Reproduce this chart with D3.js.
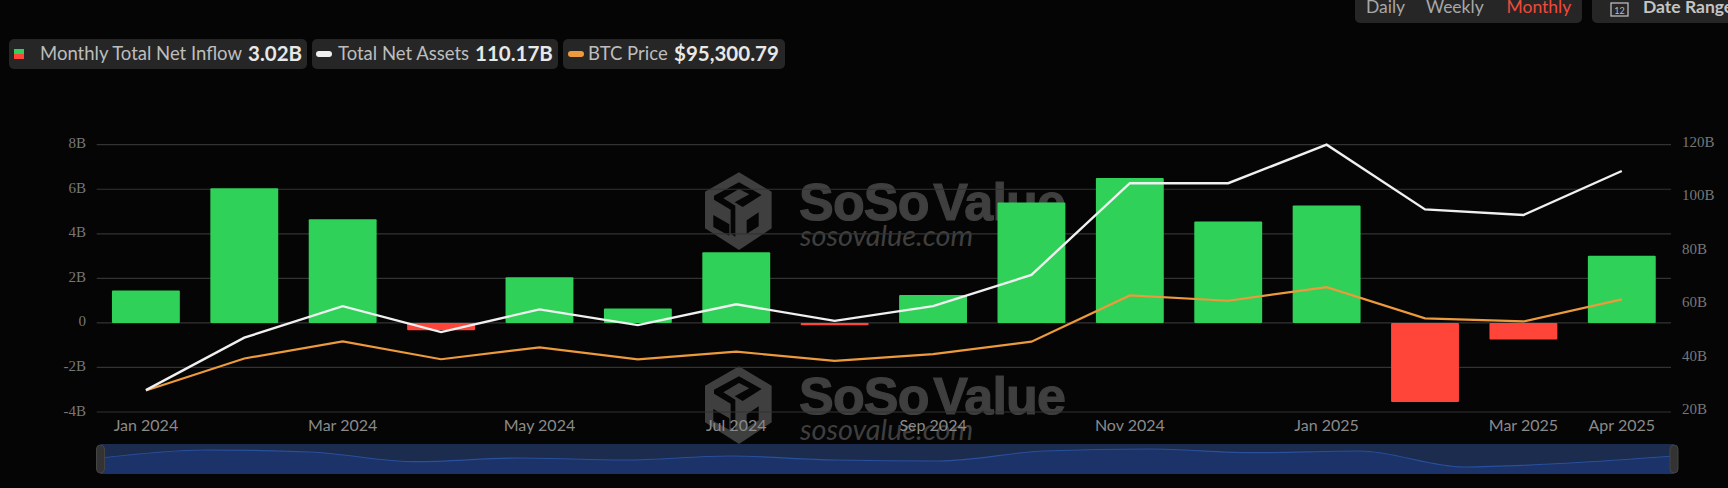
<!DOCTYPE html>
<html>
<head>
<meta charset="utf-8">
<script src="https://cdn.jsdelivr.net/npm/d3@7"></script>
<style>
  html, body { margin: 0; background: #050505; overflow: hidden; }
  text { font-family: Lato, sans-serif; }
</style>
</head>
<body>
<div id="chart"></div>
<script>
const months = ['2024-01','2024-02','2024-03','2024-04','2024-05','2024-06','2024-07','2024-08',
  '2024-09','2024-10','2024-11','2024-12','2025-01','2025-02','2025-03','2025-04']
const netInflow = [1.45, 6.05, 4.65, -0.33, 2.05, 0.65, 3.17, -0.1, 1.25, 5.4, 6.5, 4.55, 5.27, -3.55, -0.75, 3.02]
const netAssets = [28.2, 47.8, 59.6, 49.9, 58.4, 52.5, 60.3, 54.1, 59.6, 71.3, 105.6, 105.6, 120, 95.8, 93.7, 110.17]
const btcPrice = [42500, 61000, 71000, 60600, 67500, 60500, 65000, 59600, 63600, 70800, 97600, 94500, 102400, 84300, 82500, 95300]
const sliderTrend = [16, 24, 22, 12.3, 16, 14, 18, 14, 13, 23, 25, 21.3, 23, 7, 11, 18]

const xTickMonths = ['2024-01','2024-03','2024-05','2024-07','2024-09','2024-11','2025-01','2025-03','2025-04']
const xTickLabels = ['Jan 2024','Mar 2024','May 2024','Jul 2024','Sep 2024','Nov 2024','Jan 2025','Mar 2025','Apr 2025']
const leftTicks = [-4, -2, 0, 2, 4, 6, 8]
const rightTicks = [20, 40, 60, 80, 100, 120]

const W = 1728, H = 488
const plot = { left: 96.7, right: 1671, top: 144.7, bottom: 412 }
const GREEN = '#2fd158', RED = '#ff453a', WHITE = '#f0f0f0', ORANGE = '#ec9a3c'

const svg = d3.select('#chart').append('svg')
  .attr('width', W).attr('height', H)
  .style('display', 'block')

const x = d3.scaleBand().domain(months).range([plot.left, plot.right]).paddingInner(0.31).paddingOuter(0.155)
const y = d3.scaleLinear().domain([-4, 8]).range([plot.bottom, plot.top])
const yAssets = d3.scaleLinear().domain([20, 120]).range([plot.bottom, plot.top])
const yBtc = d3.scaleLinear().domain([30000, 185000]).range([plot.bottom, plot.top])
const cx = d => x(d) + x.bandwidth() / 2

// Watermarks, behind everything else
function watermark(dy) {
  const g = svg.append('g').attr('transform', `translate(0,${dy})`).attr('fill', '#3f3f3f')
  // logo, traced in a 300x285 box
  const logo = g.append('g').attr('transform', 'translate(690,165) scale(0.3333)')
  logo.append('path').attr('d', 'M147 22 L245 80 L245 190 L147 255 L45 190 L45 80 Z')
  logo.append('path').attr('fill', '#050505')
    .attr('d', 'M147 52 L215 90 L158 126 L134 112 L178 88 L147 72 L100 100 L136 122 L136 215 L122 206 L122 134 L72 104 L72 92 Z')
  logo.append('path').attr('fill', '#050505').attr('d', 'M70 150 L118 178 L118 212 L70 186 Z')
  logo.append('path').attr('fill', '#050505').attr('d', 'M170 166 L206 142 L206 184 L170 206 Z')
  g.append('text').attr('x', 799).attr('y', 220)
    .style('font-family', '"Liberation Sans", sans-serif')
    .style('font-weight', 700).style('font-size', '52px')
    .style('letter-spacing', '-0.8px').style('word-spacing', '-9px')
    .attr('stroke', '#3f3f3f').attr('stroke-width', 1.2)
    .text('SoSo Value')
  g.append('text').attr('x', 800).attr('y', 246)
    .style('font-family', 'Lato, sans-serif')
    .style('font-style', 'italic').style('font-size', '28.8px')
    .text('sosovalue.com')
}
watermark(0)
watermark(194)

// Gridlines
svg.append('g').selectAll('line').data(leftTicks).join('line')
  .attr('x1', plot.left).attr('x2', plot.right)
  .attr('y1', d => y(d)).attr('y2', d => y(d))
  .attr('stroke', '#333').attr('stroke-width', 1.2)

// Axes
const serif = '"Liberation Serif", serif'
const axisLeft = svg.append('g').attr('transform', 'translate(86,0)')
  .call(d3.axisLeft(y).tickValues(leftTicks).tickSize(0).tickPadding(0).tickFormat(d => d === 0 ? '0' : `${d}B`))
const axisRight = svg.append('g').attr('transform', 'translate(1682,0)')
  .call(d3.axisRight(yAssets).tickValues(rightTicks).tickSize(0).tickPadding(0).tickFormat(d => `${d}B`))
const axisBottom = svg.append('g').attr('transform', 'translate(0,420)')
  .call(d3.axisBottom(x).tickValues(xTickMonths).tickSize(0).tickPadding(0)
    .tickFormat(d => xTickLabels[xTickMonths.indexOf(d)]))
axisLeft.selectAll('.domain').remove()
axisRight.selectAll('.domain').remove()
axisBottom.selectAll('.domain').remove()
axisLeft.selectAll('text').style('font-family', serif).style('font-size', '15px').attr('fill', '#777').attr('dy', '0.2em')
axisRight.selectAll('text').style('font-family', serif).style('font-size', '15px').attr('fill', '#777').attr('dy', '0.1em')
axisBottom.selectAll('text').style('font-size', '16px').attr('fill', '#8a8a8a')

// Bars
svg.append('g').selectAll('rect').data(months).join('rect')
  .attr('x', d => x(d))
  .attr('width', x.bandwidth())
  .attr('y', (d, i) => y(Math.max(0, netInflow[i])))
  .attr('height', (d, i) => Math.abs(y(netInflow[i]) - y(0)))
  .attr('rx', 1)
  .attr('fill', (d, i) => netInflow[i] >= 0 ? GREEN : RED)

// Lines
const assetLine = d3.line().x(d => cx(d)).y((d, i) => yAssets(netAssets[i]))
const btcLine = d3.line().x(d => cx(d)).y((d, i) => yBtc(btcPrice[i]))
svg.append('path').attr('d', btcLine(months))
  .attr('fill', 'none').attr('stroke', ORANGE).attr('stroke-width', 2.2)
svg.append('path').attr('d', assetLine(months))
  .attr('fill', 'none').attr('stroke', WHITE).attr('stroke-width', 2.4)

// Range slider
const slider = { left: 100.5, right: 1674, top: 444, bottom: 474 }
const sx = d3.scalePoint().domain(months).range([slider.left, slider.right])
const sy = d3.scaleLinear().domain([0, 30]).range([slider.bottom, slider.top])
svg.append('rect')
  .attr('x', slider.left).attr('y', slider.top)
  .attr('width', slider.right - slider.left).attr('height', slider.bottom - slider.top)
  .attr('fill', '#1b2c4e')
svg.append('path')
  .attr('d', d3.area().x(d => sx(d)).y0(slider.bottom).y1((d, i) => sy(sliderTrend[i])).curve(d3.curveMonotoneX)(months))
  .attr('fill', '#1b3369')
svg.append('path')
  .attr('d', d3.line().x(d => sx(d)).y((d, i) => sy(sliderTrend[i])).curve(d3.curveMonotoneX)(months))
  .attr('fill', 'none').attr('stroke', '#2a4f9c').attr('stroke-width', 1.2)
svg.append('g').selectAll('rect').data([slider.left, slider.right]).join('rect')
  .attr('x', d => d - 4).attr('y', slider.top + 1)
  .attr('width', 8).attr('height', 28).attr('rx', 4)
  .attr('fill', '#333').attr('stroke', '#444')

// Legend pills
const legendItems = [
  { x0: 9, x1: 307, label: 'Monthly Total Net Inflow', lx: 40, value: '3.02B', vx: 248 },
  { x0: 312, x1: 558, label: 'Total Net Assets', lx: 338, value: '110.17B', vx: 475, color: WHITE, mx: 316 },
  { x0: 563, x1: 785, label: 'BTC Price', lx: 588, value: '$95,300.79', vx: 674, color: ORANGE, mx: 568 }
]
const legend = svg.append('g')
legendItems.forEach(it => {
  legend.append('rect').attr('x', it.x0).attr('y', 39).attr('width', it.x1 - it.x0).attr('height', 30)
    .attr('rx', 5).attr('fill', '#262626')
  legend.append('text').attr('x', it.lx).attr('y', 60).attr('fill', '#bdbdbd')
    .style('font-size', '18.5px').text(it.label)
  legend.append('text').attr('x', it.vx).attr('y', 61).attr('fill', '#e8e8e8')
    .style('font-size', '20.5px').style('font-weight', 700).text(it.value)
  if (it.color) {
    legend.append('rect').attr('x', it.mx).attr('y', 51).attr('width', 16).attr('height', 6)
      .attr('rx', 3).attr('fill', it.color)
  }
})
legend.append('rect').attr('x', 14).attr('y', 49).attr('width', 10).attr('height', 5).attr('fill', GREEN)
legend.append('rect').attr('x', 14).attr('y', 54).attr('width', 10).attr('height', 5).attr('fill', RED)

// Top right controls, cut off by the top and right edge of the window
const controls = svg.append('g')
controls.append('rect').attr('x', 1355).attr('y', -10).attr('width', 227).attr('height', 33).attr('rx', 5).attr('fill', '#262626')
controls.append('rect').attr('x', 1592).attr('y', -10).attr('width', 150).attr('height', 33).attr('rx', 5).attr('fill', '#262626')
const ranges = [['Daily', 1366, '#a8a8a8'], ['Weekly', 1426, '#a8a8a8'], ['Monthly', 1506.5, '#f2493a']]
ranges.forEach(([t, tx, c]) => {
  controls.append('text').attr('x', tx).attr('y', 13).attr('fill', c).style('font-size', '17.5px').text(t)
})
controls.append('rect').attr('x', 1611).attr('y', 3).attr('width', 17).attr('height', 13)
  .attr('fill', 'none').attr('stroke', '#bbb').attr('stroke-width', 1.3)
controls.append('text').attr('x', 1619.5).attr('y', 14).attr('text-anchor', 'middle').attr('fill', '#bbb')
  .style('font-size', '9px').text('12')
controls.append('text').attr('x', 1643).attr('y', 13).attr('fill', '#c4c4c4')
  .style('font-size', '17.5px').style('font-weight', 700).text('Date Range')
</script>
</body>
</html>
